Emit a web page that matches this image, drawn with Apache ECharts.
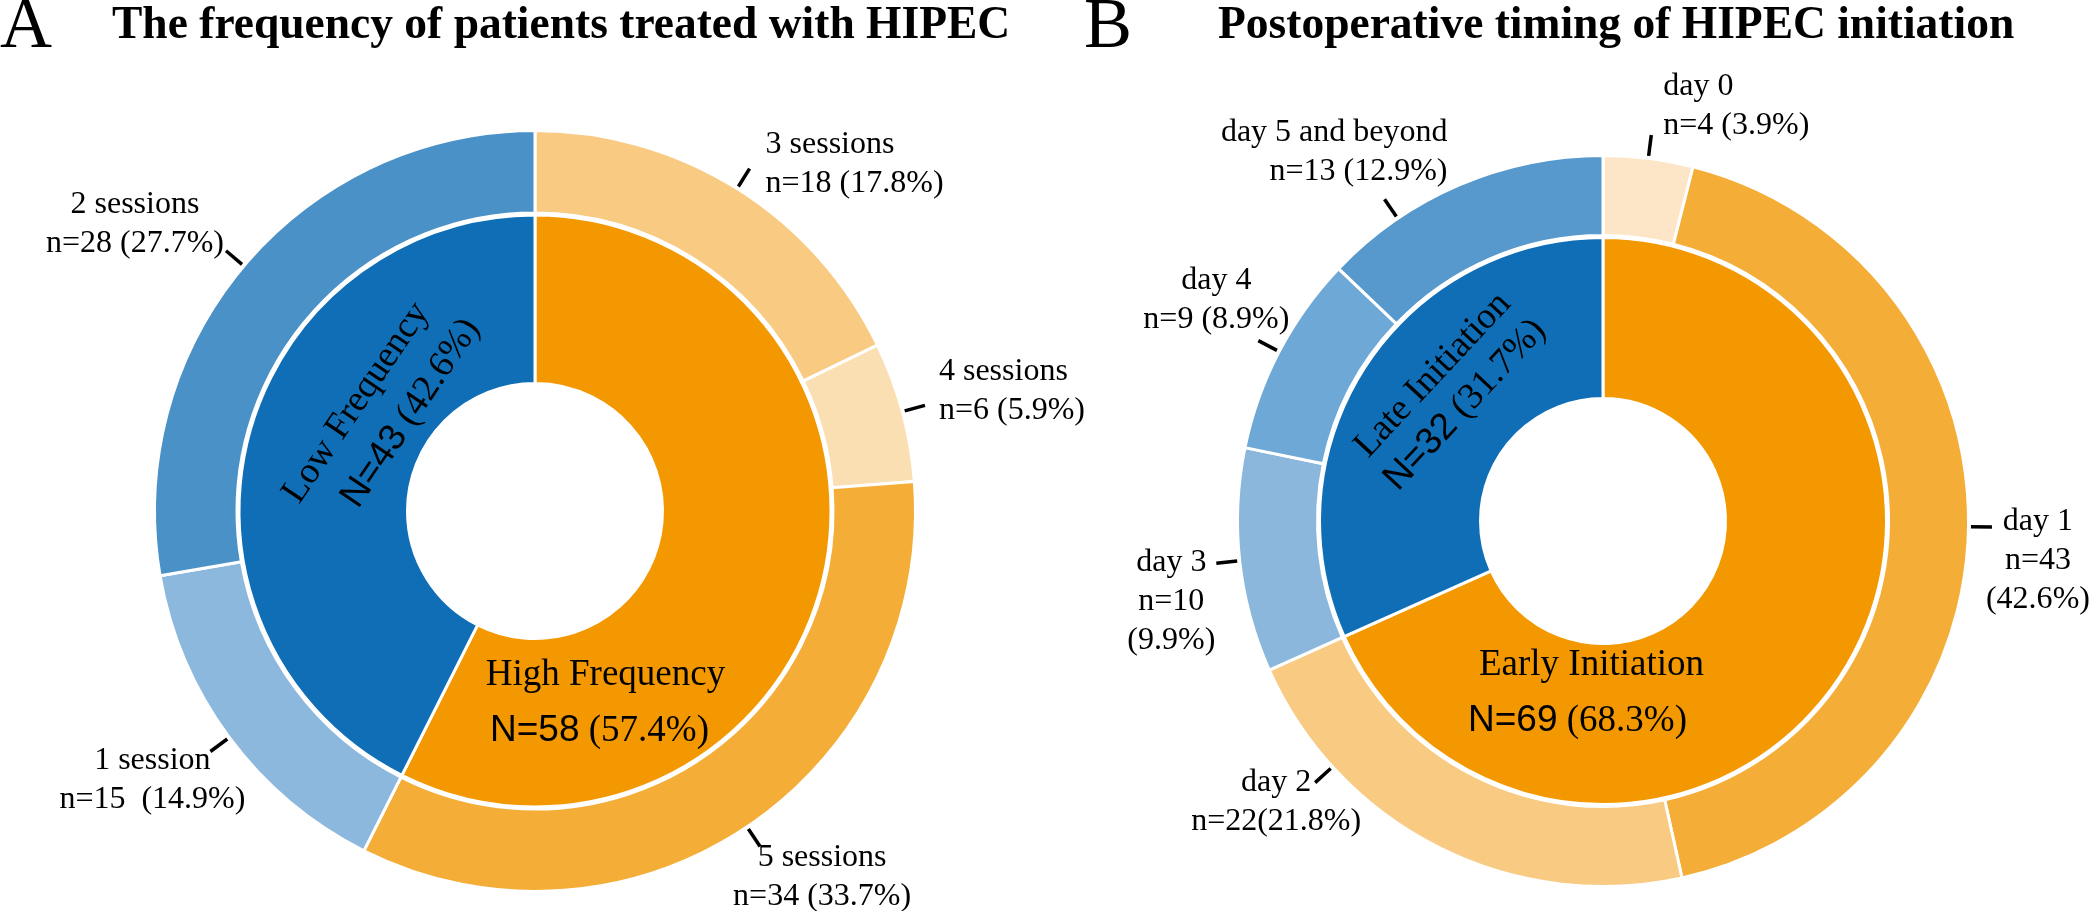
<!DOCTYPE html>
<html>
<head>
<meta charset="utf-8">
<script src="https://cdn.jsdelivr.net/npm/echarts@6/dist/echarts.min.js"></script>
<style>
html,body{margin:0;padding:0;background:#fff;}
#chart{width:2091px;height:911px;}
</style>
</head>
<body>
<div id="chart"></div>
<script>
// ---------------- data ----------------
const freqInnerNames   = ['High Frequency', 'Low Frequency'];
const freqInnerValues  = [58, 43];
const freqInnerPct     = ['57.4%', '42.6%'];
const freqOuterNames   = ['3 sessions', '4 sessions', '5 sessions', '1 session', '2 sessions'];
const freqOuterValues  = [18, 6, 34, 15, 28];
const freqOuterPct     = ['17.8%', '5.9%', '33.7%', '14.9%', '27.7%'];

const timingInnerNames  = ['Early Initiation', 'Late Initiation'];
const timingInnerValues = [69, 32];
const timingInnerPct    = ['68.3%', '31.7%'];
const timingOuterNames  = ['day 0', 'day 1', 'day 2', 'day 3', 'day 4', 'day 5 and beyond'];
const timingOuterValues = [4, 43, 22, 10, 9, 13];
const timingOuterPct    = ['3.9%', '42.6%', '21.8%', '9.9%', '8.9%', '12.9%'];

const titleA = 'The frequency of patients treated with HIPEC';
const titleB = 'Postoperative timing of HIPEC initiation';

// ---------------- styles / layout ----------------
const freqInnerColors   = ['#F39800', '#106EB6'];
const freqOuterColors   = ['#F8CA82', '#FADFB2', '#F4AD37', '#8DB8DD', '#4A91C8'];
const timingInnerColors = ['#F39800', '#106EB6'];
const timingOuterColors = ['#FCE6C7', '#F4AD37', '#F8CA82', '#8BB7DC', '#6EA8D6', '#5799CC'];

const freqSep   = [' ', ' ', ' ', '  ', ' '];
const timingSep = [' ', '\n', '', '\n', ' ', ' '];

const panelA = {center: [535, 511], R: 379, inner: [127.5, 296], outer: [298, 380.5]};
const panelB = {center: [1603, 521], R: 364, inner: [122.5, 283.5], outer: [285.5, 365.5]};

// label anchor offsets relative to the end of each tick mark
const freqOuterLabelPos = [
  {align: 'left',   dx: 16,  dy: -5,  da: 0},
  {align: 'left',   dx: 14,  dy: -14, da: 0},
  {align: 'center', dx: 62,  dy: 31,  da: 0},
  {align: 'center', dx: -58, dy: 29,  da: 0},
  {align: 'center', dx: -91, dy: -27, da: 0}
];
const timingOuterLabelPos = [
  {align: 'left',   dx: 12,  dy: -29, da: 0},
  {align: 'center', dx: 46,  dy: 34,  da: 0},
  {align: 'center', dx: -39, dy: 19,  da: 21},
  {align: 'center', dx: -45, dy: 38,  da: 0},
  {align: 'center', dx: -42, dy: -41, da: 0},
  {align: 'right',  dx: 63,  dy: -47, da: -11}
];
// inner labels: offsets relative to the pie centre
const freqInnerLabelPos = [
  {dx: 70.5,  dy: 192,   rot: 0,  lh: 56, shift: -12},
  {dx: -157.6, dy: -93.9, rot: 56, lh: 51, shift: 44}
];
const timingInnerLabelPos = [
  {dx: -11.5, dy: 172,  rot: 0,  lh: 56, shift: -28},
  {dx: -154,  dy: -131, rot: 47, lh: 44, shift: 0}
];

const SERIF = '"Liberation Serif", "Times New Roman", serif';
const SANS  = '"Liberation Sans", Arial, sans-serif';

function outerLayout(panel, values, pos) {
  const total = values.reduce((a, b) => a + b, 0);
  const mids = [];
  let acc = 0;
  values.forEach(v => { mids.push((acc + v / 2) / total * 360); acc += v; });
  return function (params) {
    const i = params.dataIndex;
    const p = pos[i];
    const a = (mids[i] + p.da) * Math.PI / 180;
    const ux = Math.sin(a), uy = -Math.cos(a);
    const cx = panel.center[0], cy = panel.center[1];
    const r0 = panel.R + 4, r1 = panel.R + 25;
    const x0 = cx + ux * r0, y0 = cy + uy * r0;
    const x1 = cx + ux * r1, y1 = cy + uy * r1;
    return {
      x: x1 + p.dx, y: y1 + p.dy,
      align: p.align, verticalAlign: 'middle',
      labelLinePoints: [[x0, y0], [x1, y1]]
    };
  };
}

function innerLayout(panel, pos) {
  return function (params) {
    const p = pos[params.dataIndex];
    return {
      x: panel.center[0] + p.dx, y: panel.center[1] + p.dy,
      rotate: p.rot, align: 'center', verticalAlign: 'middle'
    };
  };
}

function innerData(names, values, pcts, colors, pos) {
  return names.map((n, i) => {
    const p = pos[i];
    return {
      name: n, value: values[i],
      itemStyle: {color: colors[i]},
      label: {
        formatter: '{t|' + n + '}\n{n|N=' + values[i] + '}{p| (' + pcts[i] + ')}',
        rich: {
          t: {fontFamily: SERIF, fontSize: 37, lineHeight: p.lh, color: '#000'},
          n: {fontFamily: SANS, fontSize: 37, lineHeight: p.lh, color: '#000', padding: p.shift >= 0 ? [0, 0, 0, p.shift] : [0, 0, 0, 0]},
          p: {fontFamily: SERIF, fontSize: 37, lineHeight: p.lh, color: '#000', padding: p.shift < 0 ? [0, -p.shift, 0, 0] : [0, 0, 0, 0]}
        }
      }
    };
  });
}

function outerData(names, values, pcts, seps, colors) {
  return names.map((n, i) => ({
    name: n, value: values[i],
    itemStyle: {color: colors[i]},
    label: {formatter: n + '\nn=' + values[i] + seps[i] + '(' + pcts[i] + ')'}
  }));
}

function innerSeries(panel, data, pos) {
  return {
    type: 'pie', center: panel.center, radius: panel.inner,
    startAngle: 90, clockwise: true, avoidLabelOverlap: false,
    silent: true, animation: false, emphasis: {disabled: true},
    itemStyle: {borderColor: '#fff', borderWidth: 3},
    label: {show: true, position: 'inside', color: '#000'},
    labelLine: {show: false},
    labelLayout: innerLayout(panel, pos),
    data: data
  };
}

function outerSeries(panel, data, values, pos) {
  return {
    type: 'pie', center: panel.center, radius: panel.outer,
    startAngle: 90, clockwise: true, avoidLabelOverlap: false,
    silent: true, animation: false, emphasis: {disabled: true},
    itemStyle: {borderColor: '#fff', borderWidth: 3},
    label: {
      show: true, position: 'outside', alignTo: 'none', bleedMargin: 0,
      fontFamily: SERIF, fontSize: 32, lineHeight: 39, color: '#000',
      width: 420, overflow: 'none'
    },
    labelLine: {show: true, length: 10, length2: 0, lineStyle: {color: '#000', width: 3.5}},
    labelLayout: outerLayout(panel, values, pos),
    data: data
  };
}

const chart = echarts.init(document.getElementById('chart'), null, {renderer: 'canvas'});
chart.setOption({
  backgroundColor: '#fff',
  animation: false,
  graphic: [
    {type: 'text', x: 0, y: 28, style: {text: 'A', fill: '#000', font: '72px ' + SERIF, align: 'left', verticalAlign: 'middle'}},
    {type: 'text', x: 112, y: 26, style: {text: titleA, fill: '#000', font: 'bold 45.5px ' + SERIF, align: 'left', verticalAlign: 'middle'}},
    {type: 'text', x: 1084, y: 28, style: {text: 'B', fill: '#000', font: '72px ' + SERIF, align: 'left', verticalAlign: 'middle'}},
    {type: 'text', x: 1218, y: 26, style: {text: titleB, fill: '#000', font: 'bold 45.5px ' + SERIF, align: 'left', verticalAlign: 'middle'}}
  ],
  series: [
    innerSeries(panelA, innerData(freqInnerNames, freqInnerValues, freqInnerPct, freqInnerColors, freqInnerLabelPos), freqInnerLabelPos),
    outerSeries(panelA, outerData(freqOuterNames, freqOuterValues, freqOuterPct, freqSep, freqOuterColors), freqOuterValues, freqOuterLabelPos),
    innerSeries(panelB, innerData(timingInnerNames, timingInnerValues, timingInnerPct, timingInnerColors, timingInnerLabelPos), timingInnerLabelPos),
    outerSeries(panelB, outerData(timingOuterNames, timingOuterValues, timingOuterPct, timingSep, timingOuterColors), timingOuterValues, timingOuterLabelPos)
  ]
});
</script>
</body>
</html>
